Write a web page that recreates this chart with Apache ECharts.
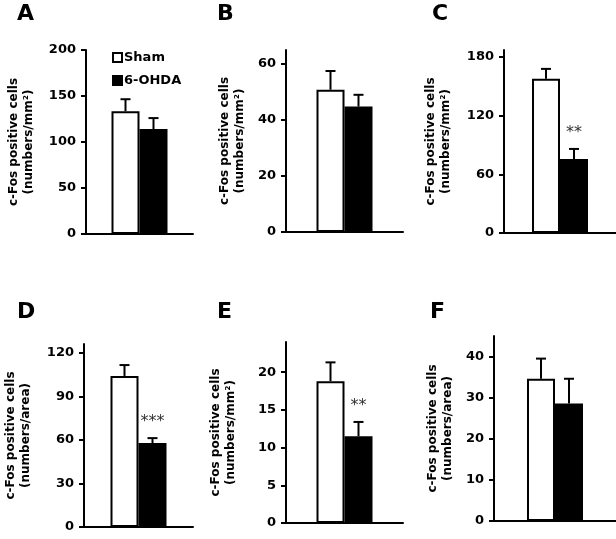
<!DOCTYPE html>
<html><head><meta charset="utf-8">
<script src="https://cdn.jsdelivr.net/npm/echarts@6/dist/echarts.min.js"></script>
<style>html,body{margin:0;padding:0;background:#fff}#c{width:616px;height:539px}</style>
</head><body><div id="c"></div>
<script>
// ---- data ----
const panelLetters = ['A', 'B', 'C', 'D', 'E', 'F'];
const seriesNames = ['Sham', '6-OHDA'];
const shamMean = [133.5, 50.8, 157.5, 104, 18.8, 34.6];
const shamSem  = [13, 6.7, 10.2, 7.5, 2.5, 4.9];
const ohdaMean = [114, 44.8, 75.7, 57.8, 11.5, 28.6];
const ohdaSem  = [12, 4.2, 10.2, 3.4, 1.9, 6.0];
const sigMarks = ['', '', '**', '***', '**', ''];
const yTicks = [
  [0, 50, 100, 150, 200],
  [0, 20, 40, 60],
  [0, 60, 120, 180],
  [0, 30, 60, 90, 120],
  [0, 5, 10, 15, 20],
  [0, 10, 20, 30, 40]
];
const yMax = [200, 65, 187, 126, 24, 45];
const yNameLine1 = 'c-Fos positive cells';
const yUnits = ['(numbers/mm²)', '(numbers/mm²)', '(numbers/mm²)', '(numbers/area)', '(numbers/mm²)', '(numbers/area)'];

// ---- layout (style only) ----
const grids = [
  {left: 86, top: 50, width: 107, height: 184},
  {left: 286, top: 50, width: 117, height: 182},
  {left: 504, top: 50, width: 112, height: 183},
  {left: 84, top: 344, width: 109, height: 183},
  {left: 286, top: 342, width: 117, height: 181},
  {left: 494, top: 336, width: 122, height: 185}
];
const nameGaps = [50, 39, 51, 51, 48, 39];
const letterPos = [[17, 3], [217, 3], [432, 3], [17, 301], [217, 301], [430, 301]];
const FONT = 'DejaVu Sans';
const BW = 28;

const chart = echarts.init(document.getElementById('c'), null, {renderer: 'canvas'});

const xAxes = [], yAxes = [], series = [], titles = [];
grids.forEach((g, i) => {
  xAxes.push({
    type: 'category', gridIndex: i, data: [''],
    axisLine: {lineStyle: {color: '#000', width: 2}},
    axisTick: {show: false}, axisLabel: {show: false}
  });
  yAxes.push({
    type: 'value', gridIndex: i, min: 0, max: yMax[i],
    splitLine: {show: false},
    axisLine: {show: true, lineStyle: {color: '#000', width: 2}},
    axisTick: {show: true, length: 5, lineStyle: {color: '#000', width: 2}, customValues: yTicks[i]},
    axisLabel: {customValues: yTicks[i], color: '#000', fontFamily: FONT, fontWeight: 'bold', fontSize: 13, margin: 10},
    name: yNameLine1 + '\n' + yUnits[i],
    nameLocation: 'middle', nameRotate: 90, nameGap: nameGaps[i],
    nameTextStyle: {color: '#000', fontFamily: FONT, fontWeight: 'bold', fontSize: 12, lineHeight: 15}
  });
  series.push({
    type: 'bar', name: seriesNames[0], xAxisIndex: i, yAxisIndex: i,
    data: [shamMean[i]], barWidth: BW, barGap: '0%',
    itemStyle: {color: '#fff', borderColor: '#000', borderWidth: 2}
  });
  series.push({
    type: 'bar', name: seriesNames[1], xAxisIndex: i, yAxisIndex: i,
    data: [ohdaMean[i]], barWidth: BW, barGap: '0%',
    itemStyle: {color: '#000', borderColor: '#000', borderWidth: 2}
  });
  series.push({
    type: 'custom', xAxisIndex: i, yAxisIndex: i, z: 5,
    data: [[0, shamMean[i], shamSem[i], -1], [0, ohdaMean[i], ohdaSem[i], 1]],
    renderItem: function (params, api) {
      const mean = api.value(1), sem = api.value(2), side = api.value(3);
      const mark = params.dataIndex === 1 ? sigMarks[i] : '';
      const p0 = api.coord([0, mean]);
      const p1 = api.coord([0, mean + sem]);
      const cx = p0[0] + side * BW / 2;
      const children = [
        {type: 'line', shape: {x1: cx, y1: p0[1], x2: cx, y2: p1[1]}, style: {stroke: '#000', lineWidth: 2}},
        {type: 'line', shape: {x1: cx - 5, y1: p1[1], x2: cx + 5, y2: p1[1]}, style: {stroke: '#000', lineWidth: 2}}
      ];
      if (mark) {
        children.push({type: 'text', style: {text: mark, x: cx, y: p1[1] - 8, align: 'center', verticalAlign: 'bottom',
          font: '16px "DejaVu Sans"', fill: '#333'}});
      }
      return {type: 'group', children: children};
    }
  });
  titles.push({text: panelLetters[i], left: letterPos[i][0], top: letterPos[i][1], padding: 0,
    textStyle: {fontFamily: FONT, fontWeight: 'bold', fontSize: 22, color: '#000'}});
});

chart.setOption({
  animation: false,
  backgroundColor: '#fff',
  title: titles,
  grid: grids,
  xAxis: xAxes,
  yAxis: yAxes,
  legend: {
    data: seriesNames, orient: 'vertical', left: 107, top: 46,
    icon: 'rect', itemWidth: 9, itemHeight: 9, itemGap: 10,
    textStyle: {fontFamily: FONT, fontWeight: 'bold', fontSize: 13, color: '#000', padding: [0, 0, 0, -3]},
    selectedMode: false
  },
  series: series
});
</script></body></html>
